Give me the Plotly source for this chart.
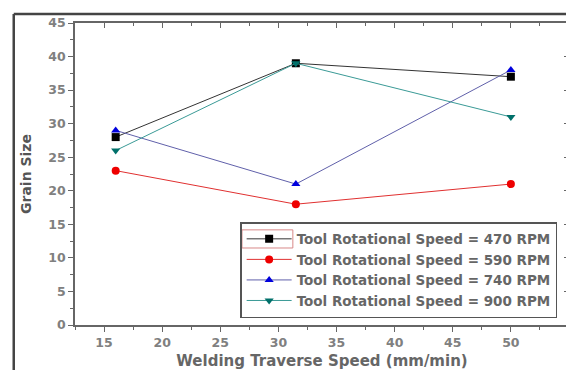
import plotly.graph_objects as go

speeds = [16, 31.5, 50]
rpm_470 = [28, 39, 37]
rpm_590 = [23, 18, 21]
rpm_740 = [29, 21, 38]
rpm_900 = [26, 39, 31]
names = ["Tool Rotational Speed = 470 RPM", "Tool Rotational Speed = 590 RPM",
         "Tool Rotational Speed = 740 RPM", "Tool Rotational Speed = 900 RPM"]
series = [rpm_470, rpm_590, rpm_740, rpm_900]
line_colors = ["#333333", "#e03030", "#6060aa", "#3a9a96"]
marker_colors = ["#000000", "#ee0000", "#0000dd", "#00706a"]
symbols = ["square", "circle", "triangle-up", "triangle-down"]

fig = go.Figure()
for n, s, lc, mc, sym in zip(names, series, line_colors, marker_colors, symbols):
    fig.add_trace(go.Scatter(x=speeds, y=s, name=n, mode="lines+markers",
                             line=dict(color=lc, width=1),
                             marker=dict(color=mc, symbol=sym, size=8)))

FONT = "DejaVu Sans"
tickfont = dict(family=FONT, size=12.5, color="#808080", weight="bold")
# page body has an 8px margin, so the figure is sized/offset to compensate
fig.update_layout(
    width=566, height=362,
    margin=dict(l=67, r=5, t=15, b=45, autoexpand=False),
    paper_bgcolor="white", plot_bgcolor="white",
    font=dict(family=FONT, color="#555555"),
    showlegend=True,
    legend=dict(x=0.976, y=0.023, xanchor="right", yanchor="bottom",
                bordercolor="#555555", borderwidth=1.5, bgcolor="rgba(255,255,255,0)",
                font=dict(size=13.5, color="#666666", weight="bold"), tracegroupgap=0,
                itemwidth=45),
    xaxis=dict(range=[12.5, 55], tickvals=[15, 20, 25, 30, 35, 40, 45, 50, 55],
               ticks="outside", ticklen=5, tickcolor="#666666", automargin=False,
               minor=dict(ticks="outside", ticklen=3, dtick=2.5, tick0=0, tickcolor="#666666"),
               showline=True, linecolor="#666666", linewidth=1.5,
               showgrid=False, zeroline=False, tickfont=tickfont,
               title=dict(text="Welding Traverse Speed (mm/min)",
                          font=dict(size=15, color="#666666", weight="bold"), standoff=10)),
    yaxis=dict(range=[0, 45], tickvals=[0, 5, 10, 15, 20, 25, 30, 35, 40, 45],
               ticks="outside", ticklen=5, tickcolor="#666666", automargin=False,
               minor=dict(ticks="outside", ticklen=3, dtick=2.5, tick0=0, tickcolor="#666666"),
               showline=True, linecolor="#666666", linewidth=1.5,
               showgrid=False, zeroline=False, tickfont=tickfont,
               title=dict(text="Grain Size", font=dict(size=14, color="#555555", weight="bold"),
                          standoff=13)),
    xaxis2=dict(overlaying="x", side="top", matches="x", range=[12.5, 55], automargin=False,
                tickvals=[15, 20, 25, 30, 35, 40, 45, 50, 55], showticklabels=False,
                ticks="inside", ticklen=5, tickcolor="#666666",
                minor=dict(ticks="inside", ticklen=3, dtick=2.5, tick0=0, tickcolor="#666666"),
                showline=True, linecolor="#666666", linewidth=1.5, showgrid=False, zeroline=False),
    yaxis2=dict(overlaying="y", side="right", matches="y", range=[0, 45], automargin=False,
                tickvals=[0, 5, 10, 15, 20, 25, 30, 35, 40, 45], showticklabels=False,
                ticks="inside", ticklen=5, tickcolor="#666666",
                minor=dict(ticks="inside", ticklen=3, dtick=2.5, tick0=0, tickcolor="#666666"),
                showline=True, linecolor="#666666", linewidth=1.5, showgrid=False, zeroline=False),
)
fig.add_trace(go.Scatter(x=[None], y=[None], xaxis="x2", yaxis="y2", showlegend=False,
                         hoverinfo="skip"))

# outer frame lines (image border)
fig.add_shape(type="line", xref="paper", yref="paper", x0=-0.124, x1=1.02, y0=1.03, y1=1.03,
              line=dict(color="#444444", width=2.5))
fig.add_shape(type="line", xref="paper", yref="paper", x0=-0.124, x1=-0.124, y0=1.03, y1=-0.2,
              line=dict(color="#444444", width=2.5))
# thin pink selection box around the first legend symbol
fig.add_shape(type="rect", xref="paper", yref="paper", x0=0.338, x1=0.441, y0=0.255, y1=0.315,
              line=dict(color="#d88888", width=1), layer="above")

fig.write_html("out.html")
